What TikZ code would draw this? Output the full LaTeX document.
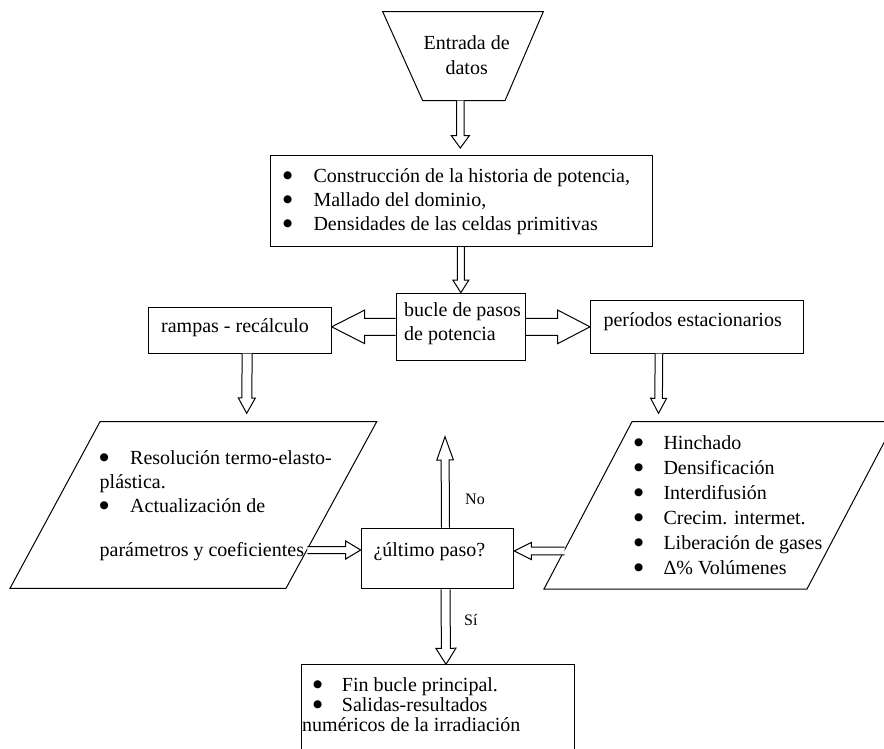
\documentclass[tikz,border=0pt]{standalone}
\usepackage{fontspec}
\setmainfont{Liberation Serif}
\newfontfamily\bulletfont{DejaVu Sans}
\usetikzlibrary{calc}
\tikzset{
  boxnode/.style={draw, line width=1pt, rectangle, inner sep=0pt, anchor=north west},
  shapeline/.style={draw, line width=1pt, line join=miter},
  barrow/.style={draw, line width=1pt, fill=white, line join=miter},
  txt/.style={inner sep=0pt, anchor=base west, font=\fontsize{20}{24}\selectfont},
  lbl/.style={inner sep=0pt, anchor=base west, font=\fontsize{16}{19}\selectfont},
}
\newcommand{\bul}[1]{\makebox[#1][l]{\raisebox{3.6pt}{\bulletfont\fontsize{10.5}{10.5}\selectfont ●}}}
% from, to, half stem, half head, head length
\newcommand{\blockarrow}[5]{%
  \draw[barrow] let \p1=(#1), \p2=(#2),
    \n1={atan2(\y2-\y1,\x2-\x1)}, \n2={veclen(\x2-\x1,\y2-\y1)} in
    [shift={(\x1,\y1)}, rotate=\n1]
    (0pt,#3pt) -- ({\n2-#5pt},#3pt) -- ({\n2-#5pt},#4pt) -- (\n2,0pt)
    -- ({\n2-#5pt},-#4pt) -- ({\n2-#5pt},-#3pt) -- (0pt,-#3pt);}
\begin{document}
\begin{tikzpicture}[x=1pt,y=-1pt]
\useasboundingbox (0,0) rectangle (884,749);
\clip (0,0) rectangle (884,749);

% input trapezoid
\coordinate (tTL) at (382.7,11.7);
\coordinate (tTR) at (543.3,11.7);
\coordinate (tBR) at (505,100.7);
\coordinate (tBL) at (422.7,100.7);
\coordinate (tB) at (460.3,100.7);
\draw[shapeline] (tTL) -- (tTR) -- (tBR) -- (tBL) -- cycle;
\node[txt, anchor=base, font=\fontsize{20}{25}\selectfont] (entrada) at (466.7,50)
  {\begin{tabular}[t]{@{}c@{}}Entrada de\\datos\end{tabular}};

% boxes
\node[boxnode, minimum width=381.7pt, minimum height=91pt] (box1) at (270,155) {};
\node[boxnode, minimum width=129.3pt, minimum height=67.3pt] (bucle) at (395.7,292.7) {};
\node[boxnode, minimum width=182.7pt, minimum height=45.4pt] (rampas) at (148,307.3) {};
\node[boxnode, minimum width=212.7pt, minimum height=52.4pt] (periodos) at (590,300.3) {};
\node[boxnode, minimum width=152.6pt, minimum height=60.6pt] (ultimo) at (360.7,527.7) {};
\node[boxnode, minimum width=273.6pt, minimum height=100pt] (fin) at (300.7,664.3) {};

% parallelograms
\coordinate (lpTL) at (100,421.7);
\coordinate (lpTR) at (376.7,421.7);
\coordinate (lpBR) at (286,588.3);
\coordinate (lpBL) at (10,588.3);
\coordinate (lpR) at (307.4,550);
\draw[shapeline] (lpTL) -- (lpTR) -- (lpBR) -- (lpBL) -- cycle;
\coordinate (rpTL) at (632,421.7);
\coordinate (rpTR) at (895,421.7);
\coordinate (rpBR) at (807,589);
\coordinate (rpBL) at (544,589);
\coordinate (rpL) at (564.5,551);
\draw[shapeline] (rpTL) -- (rpTR) -- (rpBR) -- (rpBL) -- cycle;

% texts
\node[txt] (box1text) at (283,182.5) {\begin{tabular}[t]{@{}l@{}}
  \bul{30.3pt}Construcción de la historia de potencia,\\
  \bul{30.3pt}Mallado del dominio,\\
  \bul{30.3pt}Densidades de las celdas primitivas\end{tabular}};
\node[txt] (bucletext) at (404,316.7) {\begin{tabular}[t]{@{}l@{}}bucle de pasos\\de potencia\end{tabular}};
\node[txt] (rampastext) at (161,332.7) {rampas - recálculo};
\node[txt] (periodostext) at (603.3,326.7) {períodos estacionarios};
\node[txt] (lptext) at (99.5,464) {\begin{tabular}[t]{@{}l@{}}
  \bul{30.5pt}Resolución termo-elasto-\\
  plástica.\\
  \bul{30.5pt}Actualización de\\[20pt]
  parámetros y coeficientes\end{tabular}};
\node[txt, font=\fontsize{20}{25}\selectfont] (rptext) at (634,449) {\begin{tabular}[t]{@{}l@{}}
  \bul{29.3pt}Hinchado\\
  \bul{29.3pt}Densificación\\
  \bul{29.3pt}Interdifusión\\
  \bul{29.3pt}Crecim. intermet.\\
  \bul{29.3pt}Liberación de gases\\
  \bul{29.3pt}Δ\% Volúmenes\end{tabular}};
\node[txt] (ultimotext) at (373.3,556) {¿último paso?};
\node[txt, font=\fontsize{20}{20}\selectfont] (fintext) at (302,691) {\begin{tabular}[t]{@{}l@{}}
  \hspace*{11pt}\bul{28.7pt}Fin bucle principal.\\
  \hspace*{11pt}\bul{28.7pt}Salidas-resultados\\
  numéricos de la irradiación\end{tabular}};
\node[lbl] (nolabel) at (465,504) {No};
\node[lbl] (silabel) at (464,625) {Sí};

% free ends
\coordinate (a1e) at (460.3,148);
\coordinate (a5e) at (246.7,413.3);
\coordinate (a6e) at (658.5,413.3);
\coordinate (a9e) at (445,436.7);

% block arrows
\blockarrow{tB}{a1e}{3.7}{9}{12.3}
\blockarrow{box1.south -| bucle.north}{bucle.north}{3.6}{8}{12.7}
\blockarrow{bucle.west}{bucle.west -| rampas.east}{8.6}{16.8}{33}
\blockarrow{bucle.east}{bucle.east -| periodos.west}{8.6}{16.8}{32.3}
\blockarrow{[xshift=7.3pt]rampas.south}{a5e}{5}{8.5}{15.3}
\blockarrow{[xshift=-37.9pt]periodos.south}{a6e}{3.8}{8}{15}
\blockarrow{lpR}{lpR -| ultimo.west}{3.5}{9}{15}
\blockarrow{rpL}{rpL -| ultimo.east}{3.8}{8.5}{17}
\blockarrow{[xshift=8pt]ultimo.north}{a9e}{4}{8.3}{23.3}
\blockarrow{[xshift=8pt]ultimo.south}{[xshift=8pt]fin.north}{4.5}{10}{16}
\end{tikzpicture}
\end{document}
